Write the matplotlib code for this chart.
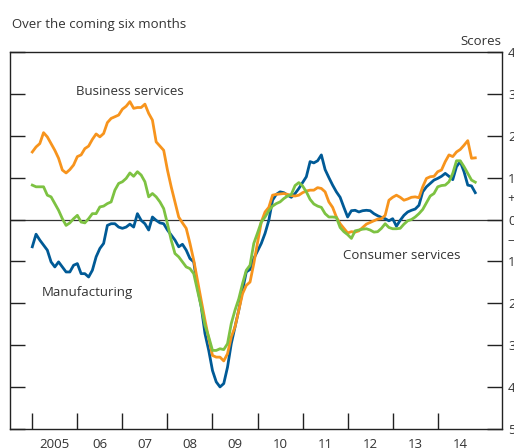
import numpy as np
import matplotlib
matplotlib.use('Agg')
import matplotlib.pyplot as plt

plt.rcParams['font.family'] = ['Open Sans', 'DejaVu Sans']

# monthly scores, Jan 2005 - Nov 2014
start_year = 2005
business = [
    1.61, 1.73, 1.81, 2.07, 1.97, 1.81, 1.65, 1.46, 1.18, 1.11, 1.19, 1.30,
    1.50, 1.54, 1.69, 1.75, 1.91, 2.04, 1.97, 2.05, 2.31, 2.41, 2.45, 2.49,
    2.63, 2.70, 2.81, 2.65, 2.67, 2.67, 2.75, 2.53, 2.37, 1.85, 1.75, 1.65,
    1.18, 0.78, 0.42, 0.06, -0.08, -0.21, -0.57, -0.97, -1.45, -1.93, -2.40, -2.84,
    -3.24, -3.28, -3.28, -3.37, -3.20, -2.80, -2.56, -2.16, -1.77, -1.57, -1.49, -1.05,
    -0.55, -0.06, 0.18, 0.29, 0.58, 0.60, 0.61, 0.62, 0.60, 0.57, 0.56, 0.58,
    0.64, 0.68, 0.70, 0.70, 0.76, 0.74, 0.66, 0.42, 0.29, 0.06, -0.10, -0.21,
    -0.32, -0.29, -0.30, -0.27, -0.19, -0.11, -0.07, -0.03, 0.01, 0.02, 0.10, 0.46,
    0.53, 0.58, 0.53, 0.46, 0.49, 0.53, 0.54, 0.52, 0.78, 0.98, 1.02, 1.03,
    1.14, 1.18, 1.38, 1.54, 1.50, 1.61, 1.67, 1.77, 1.88, 1.46, 1.47,
]
consumer = [
    0.82, 0.78, 0.78, 0.78, 0.58, 0.54, 0.38, 0.22, 0.02, -0.14, -0.08, 0.02,
    0.10, -0.06, -0.08, 0.02, 0.14, 0.14, 0.30, 0.32, 0.38, 0.42, 0.70, 0.86,
    0.90, 0.98, 1.11, 1.03, 1.14, 1.06, 0.90, 0.54, 0.62, 0.54, 0.42, 0.26,
    -0.10, -0.49, -0.81, -0.89, -1.01, -1.13, -1.17, -1.29, -1.69, -2.08, -2.52, -2.80,
    -3.12, -3.12, -3.08, -3.10, -2.96, -2.48, -2.16, -1.89, -1.53, -1.21, -1.09, -0.57,
    -0.32, -0.06, 0.06, 0.21, 0.32, 0.38, 0.42, 0.50, 0.56, 0.60, 0.81, 0.88,
    0.80, 0.66, 0.48, 0.37, 0.32, 0.29, 0.14, 0.06, 0.06, 0.05, -0.19, -0.29,
    -0.36, -0.45, -0.27, -0.25, -0.23, -0.22, -0.25, -0.30, -0.29, -0.21, -0.10, -0.19,
    -0.22, -0.22, -0.21, -0.11, -0.03, 0.00, 0.06, 0.14, 0.24, 0.40, 0.56, 0.62,
    0.78, 0.81, 0.82, 0.90, 1.10, 1.40, 1.40, 1.26, 1.10, 0.94, 0.89,
]
manufacturing = [
    -0.65, -0.35, -0.49, -0.61, -0.73, -1.01, -1.13, -1.01, -1.13, -1.25, -1.25, -1.09,
    -1.05, -1.29, -1.29, -1.37, -1.21, -0.89, -0.69, -0.57, -0.14, -0.10, -0.10, -0.18,
    -0.21, -0.18, -0.11, -0.18, 0.14, -0.02, -0.10, -0.25, 0.06, -0.02, -0.08, -0.10,
    -0.25, -0.37, -0.49, -0.65, -0.59, -0.73, -0.93, -1.01, -1.61, -2.08, -2.72, -3.12,
    -3.60, -3.87, -3.99, -3.91, -3.52, -2.96, -2.56, -2.16, -1.69, -1.25, -1.19, -0.93,
    -0.75, -0.57, -0.33, -0.02, 0.46, 0.60, 0.66, 0.64, 0.58, 0.53, 0.62, 0.74,
    0.88, 1.02, 1.38, 1.35, 1.40, 1.54, 1.19, 1.00, 0.82, 0.66, 0.53, 0.29,
    0.06, 0.21, 0.22, 0.18, 0.21, 0.22, 0.21, 0.14, 0.09, 0.05, 0.02, -0.03,
    0.02, -0.16, -0.02, 0.10, 0.18, 0.22, 0.25, 0.34, 0.66, 0.78, 0.86, 0.94,
    0.98, 1.03, 1.10, 1.03, 0.95, 1.26, 1.38, 1.14, 0.82, 0.80, 0.64,
]
years = list(range(2005, 2015))
year_labels = ['2005', '06', '07', '08', '09', '10', '11', '12', '13', '14']
y_ticks = list(range(-5, 5))

BLUE = '#005a96'
ORANGE = '#f7941d'
GREEN = '#7dc242'
TEXT = '#333333'

x = start_year + np.arange(len(business)) / 12

fig = plt.figure(figsize=(5.14, 4.48), dpi=100)
fig.patch.set_facecolor('white')
ax = fig.add_axes([10 / 514, 1 - 429.3 / 448, 491.7 / 514, 377.6 / 448])

ax.axhline(0, color='#333333', lw=0.9, zorder=1)
ax.plot(x, manufacturing, color=BLUE, lw=2, zorder=3)
ax.plot(x, business, color=ORANGE, lw=2, zorder=4)
ax.plot(x, consumer, color=GREEN, lw=2, zorder=5)

ax.set_xlim(2004.505, 2015.42)
ax.set_ylim(-5, 4)

for s in ax.spines.values():
    s.set_color('#222222')
    s.set_linewidth(1.0)

# x: ticks at year starts, labels mid-year
ax.set_xticks(years)
ax.set_xticklabels([])
ax.set_xticks([y + 0.5 for y in years], minor=True)
ax.set_xticklabels(year_labels, minor=True)
ax.tick_params(axis='x', which='major', direction='in', length=11.5, width=1.0, color='#222222')
ax.tick_params(axis='x', which='minor', length=0, pad=6, labelsize=9.5, labelcolor=TEXT)

# y: ticks both sides, labels on the right
ax.set_yticks(y_ticks)
ax.set_yticklabels([str(abs(v)) for v in y_ticks])
ax.tick_params(axis='y', direction='in', length=10.8, width=1.0, color='#222222',
               left=True, right=True, labelleft=False, labelright=True,
               pad=4.5, labelsize=9.5, labelcolor=TEXT)

tr = ax.get_yaxis_transform()
ax.text(1.012, 0.5, '+', transform=tr, ha='left', va='center', fontsize=9.5, color=TEXT)
ax.text(1.012, -0.5, '\u2013', transform=tr, ha='left', va='center', fontsize=9.5, color=TEXT)

# series labels
ax.text(2005.97, 2.97, 'Business services', ha='left', va='baseline', fontsize=9.5, color=TEXT)
ax.text(2005.21, -1.83, 'Manufacturing', ha='left', va='baseline', fontsize=9.5, color=TEXT)
ax.text(2011.90, -0.95, 'Consumer services', ha='left', va='baseline', fontsize=9.5, color=TEXT)

fig.text(11.7 / 514, 1 - 28 / 448, 'Over the coming six months', ha='left', va='baseline',
         fontsize=9.5, color=TEXT)
fig.text(501.7 / 514, 1 - 45 / 448, 'Scores', ha='right', va='baseline',
         fontsize=9.5, color=TEXT)

fig.savefig('out.png', dpi=100, facecolor='white')
